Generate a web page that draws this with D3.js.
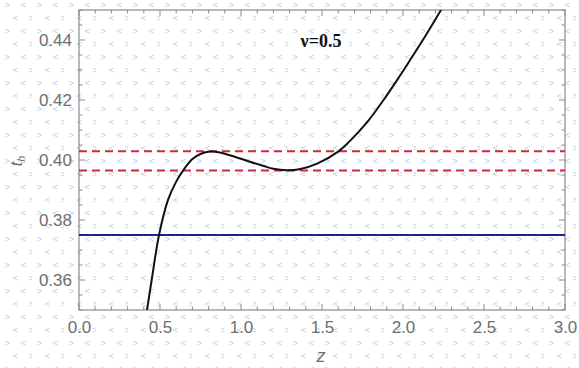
<!DOCTYPE html>
<html>
<head>
<meta charset="utf-8">
<script src="https://cdn.jsdelivr.net/npm/d3@7"></script>
<style>
  html, body { margin: 0; padding: 0; background: #fff; }
  svg { display: block; }
</style>
</head>
<body>
<svg id="chart" width="579" height="368"></svg>
<script>
// ---- data ----
const curveZ = [0.42, 0.45, 0.494, 0.55, 0.60, 0.64, 0.70, 0.75, 0.81, 0.87, 0.93, 1.00, 1.05, 1.14, 1.20, 1.28, 1.36, 1.47, 1.60, 1.67, 1.78, 1.88, 1.98, 2.04, 2.14, 2.24];
const curveT = [0.350, 0.3605, 0.375, 0.3868, 0.3928, 0.3963, 0.4003, 0.4020, 0.4028, 0.4025, 0.4016, 0.4004, 0.3995, 0.3980, 0.3971, 0.3966, 0.3969, 0.3988, 0.4028, 0.4062, 0.4127, 0.4200, 0.4280, 0.4330, 0.4415, 0.4505];
const dashedLevels = [0.4029, 0.3965];
const blueLevel = [0.375];
const xTicks = [0.0, 0.5, 1.0, 1.5, 2.0, 2.5, 3.0];
const yTicks = [0.36, 0.38, 0.40, 0.42, 0.44];
const annotation = "ν=0.5";

const svg = d3.select("#chart");
const W = 579, H = 368;
const m = {left: 79, top: 10, right: 565, bottom: 310};

// background watermark-like chevron texture
const defs = svg.append("defs");
const pat = defs.append("pattern").attr("id", "wm").attr("patternUnits", "userSpaceOnUse")
  .attr("width", 32).attr("height", 26);
const glyphs = [[4, 8, ">"], [20, 8, "<"], [12, 21, "<"], [28, 21, ">"]];
glyphs.forEach(g => pat.append("text").attr("x", g[0]).attr("y", g[1]).text(g[2])
  .attr("font-family", "DejaVu Sans").attr("font-size", 8).attr("fill", "#b3cfea"));
svg.append("rect").attr("width", W).attr("height", H).attr("fill", "#fff");
svg.append("rect").attr("width", W).attr("height", H).attr("fill", "url(#wm)");

const x = d3.scaleLinear().domain([0, 3]).range([m.left, m.right]);
const y = d3.scaleLinear().domain([0.35, 0.45]).range([m.bottom, m.top]);

const frameColor = "#8a8a8a";
const g = svg.append("g");

// ticks (inside, all four sides)
const xMinor = d3.range(0, 3.0001, 0.1);
const yMinor = d3.range(0.35, 0.45001, 0.005);
const isMajorX = v => Math.abs(v * 2 - Math.round(v * 2)) < 1e-6;
const isMajorY = v => Math.abs(v * 50 - Math.round(v * 50)) < 1e-6;
xMinor.forEach(v => {
  const L = isMajorX(v) ? 6 : 3.5;
  g.append("line").attr("x1", x(v)).attr("x2", x(v)).attr("y1", m.bottom).attr("y2", m.bottom - L).attr("stroke", frameColor);
  g.append("line").attr("x1", x(v)).attr("x2", x(v)).attr("y1", m.top).attr("y2", m.top + L).attr("stroke", frameColor);
});
yMinor.forEach(v => {
  const L = isMajorY(v) ? 6 : 3.5;
  g.append("line").attr("y1", y(v)).attr("y2", y(v)).attr("x1", m.left).attr("x2", m.left + L).attr("stroke", frameColor);
  g.append("line").attr("y1", y(v)).attr("y2", y(v)).attr("x1", m.right).attr("x2", m.right - L).attr("stroke", frameColor);
});

// frame
g.append("rect").attr("x", m.left).attr("y", m.top).attr("width", m.right - m.left).attr("height", m.bottom - m.top)
  .attr("fill", "none").attr("stroke", frameColor).attr("stroke-width", 1.2);

// tick labels via d3 axes (tick lines hidden)
const xAxis = svg.append("g").attr("transform", `translate(0,${m.bottom})`)
  .call(d3.axisBottom(x).tickValues(xTicks).tickFormat(d3.format(".1f")).tickSize(0).tickPadding(11));
const yAxis = svg.append("g").attr("transform", `translate(${m.left},0)`)
  .call(d3.axisLeft(y).tickValues(yTicks).tickFormat(d3.format(".2f")).tickSize(0).tickPadding(7));
[xAxis, yAxis].forEach(a => {
  a.select(".domain").remove();
  a.selectAll("text").attr("font-family", "Liberation Sans, Arial, sans-serif").attr("font-size", 17).attr("fill", "#6e6e6e");
});

// clip
defs.append("clipPath").attr("id", "clip").append("rect")
  .attr("x", m.left).attr("y", m.top).attr("width", m.right - m.left).attr("height", m.bottom - m.top);
const plot = svg.append("g").attr("clip-path", "url(#clip)");

// blue horizontal line
plot.selectAll(".blue").data(blueLevel).join("line")
  .attr("x1", x(0)).attr("x2", x(3)).attr("y1", d => y(d)).attr("y2", d => y(d))
  .attr("stroke", "#1e1e96").attr("stroke-width", 1.8);

// red dashed lines
plot.selectAll(".red").data(dashedLevels).join("line")
  .attr("x1", x(0)).attr("x2", x(3)).attr("y1", d => y(d)).attr("y2", d => y(d))
  .attr("stroke", "#cc2a3a").attr("stroke-width", 2).attr("stroke-dasharray", "8,5");

// curve
const pts = curveZ.map((z, i) => [z, curveT[i]]);
plot.append("path").datum(pts)
  .attr("d", d3.line().x(d => x(d[0])).y(d => y(d[1])).curve(d3.curveCatmullRom.alpha(0.5)))
  .attr("fill", "none").attr("stroke", "#111").attr("stroke-width", 2);

// annotation
svg.append("text").attr("x", 321).attr("y", 47).attr("text-anchor", "middle")
  .attr("font-family", "Liberation Serif, Times New Roman, serif").attr("font-weight", "bold")
  .attr("font-size", 18).attr("fill", "#111").text(annotation);

// axis titles
const yt = svg.append("text").attr("transform", "translate(22,161) rotate(-90)")
  .attr("text-anchor", "middle").attr("font-family", "Liberation Sans, Arial, sans-serif")
  .attr("font-style", "italic").attr("font-size", 16).attr("fill", "#6e6e6e");
yt.append("tspan").text("t");
yt.append("tspan").attr("font-size", 11).attr("dy", 3).text("h");

svg.append("text").attr("x", 321).attr("y", 362).attr("text-anchor", "middle")
  .attr("font-family", "Liberation Sans, Arial, sans-serif").attr("font-style", "italic")
  .attr("font-size", 18).attr("fill", "#6e6e6e").text("z");
</script>
</body>
</html>
